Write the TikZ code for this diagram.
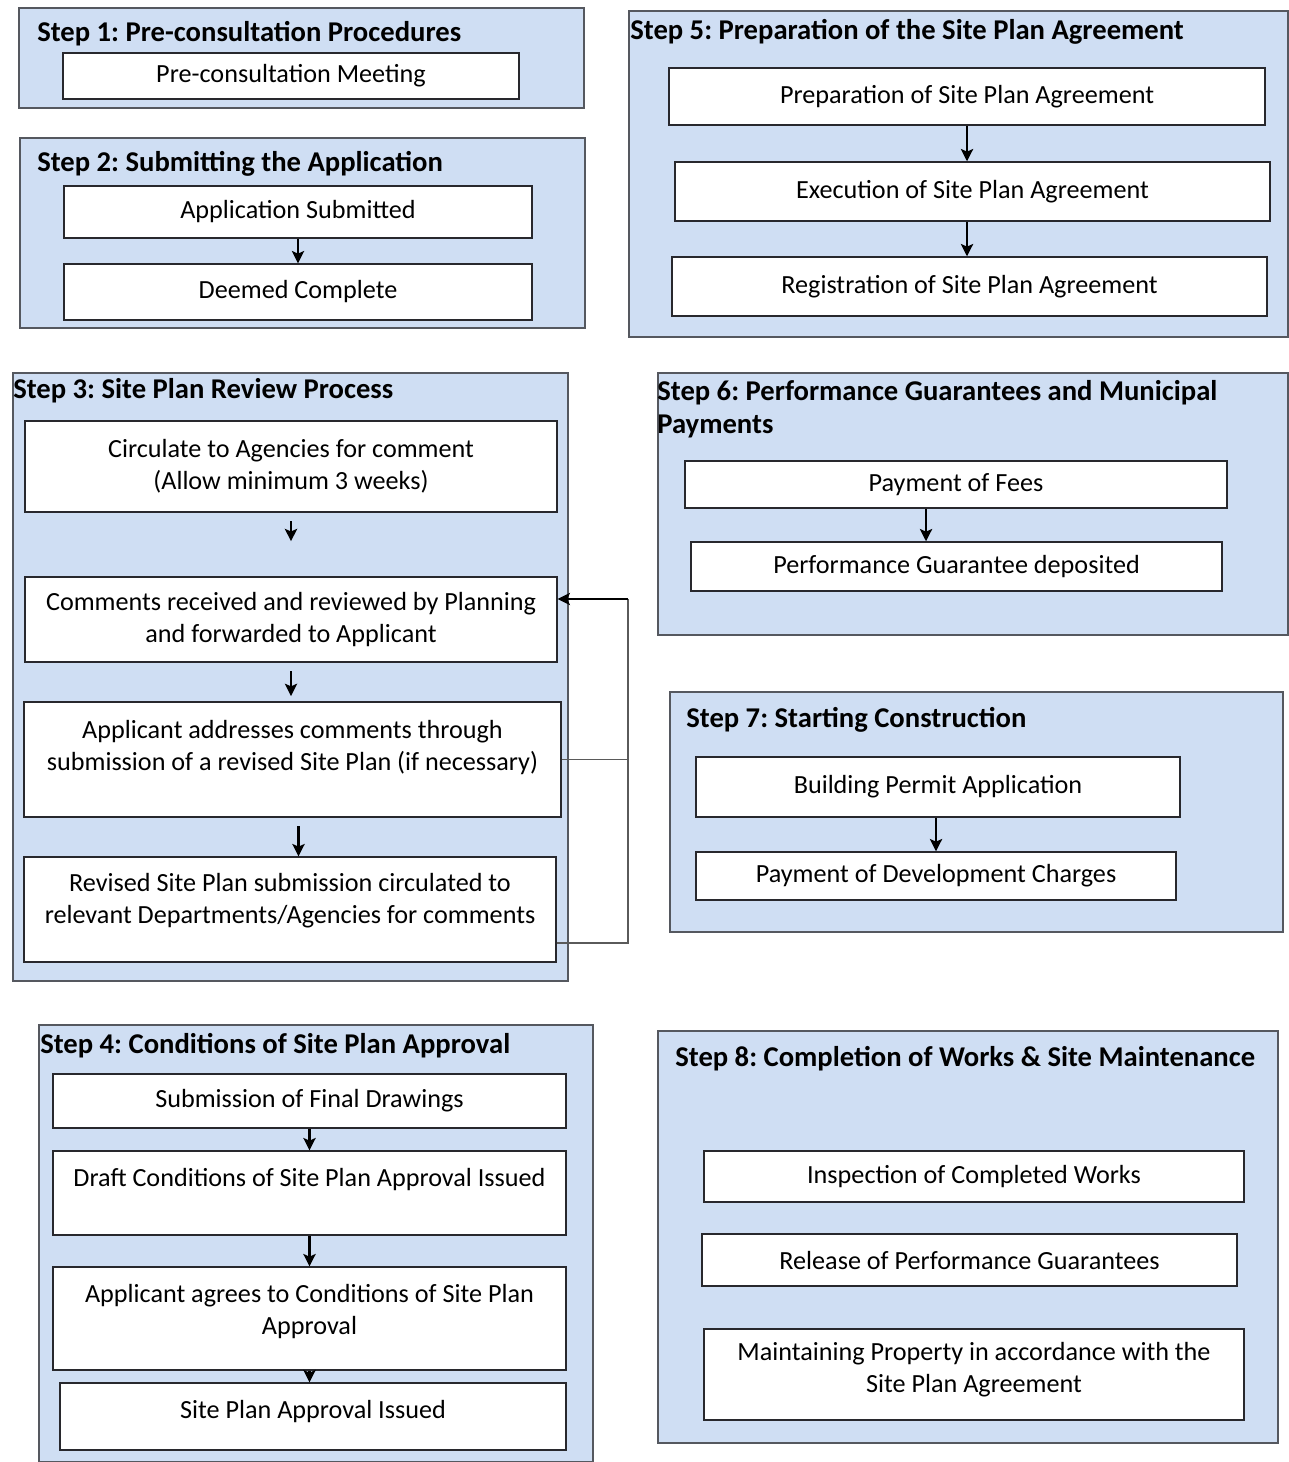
\documentclass[tikz,border=0pt]{standalone}
\usepackage{fontspec}
\setmainfont{Carlito}
\usetikzlibrary{arrows.meta}
\definecolor{panelblue}{RGB}{207,222,243}
\definecolor{panelrule}{RGB}{85,88,95}
\definecolor{boxrule}{RGB}{40,40,45}
\definecolor{loopgrey}{RGB}{90,90,90}
\frenchspacing
\begin{document}
\begin{tikzpicture}[x=0.02cm, y=-0.02cm,
  font=\fontsize{14.9pt}{18.2pt}\selectfont,
  stepframe/.style={draw=panelrule, fill=panelblue, line width=1.1pt, anchor=north west, inner sep=0pt},
  steptitle/.style={anchor=west, font=\fontsize{16.3pt}{19pt}\selectfont\bfseries, align=left, inner sep=0pt},
  stepbox/.style={draw=boxrule, fill=white, line width=0.8pt, align=center, inner sep=0pt},
  flow/.style={-{Stealth[length=7pt, width=7pt, inset=1.5pt]}, line width=1.3pt, draw=black},
  loopline/.style={line width=0.8pt, draw=loopgrey}]
\useasboundingbox (0,0) rectangle (1288,1462);
% step panels
\node[stepframe, minimum width=11.30cm, minimum height=2.00cm] (s1) at (18,7) {};
\node[stepframe, minimum width=11.30cm, minimum height=3.80cm] (s2) at (19,137) {};
\node[stepframe, minimum width=11.10cm, minimum height=12.16cm] (s3) at (12,372) {};
\node[stepframe, minimum width=11.08cm, minimum height=8.74cm] (s4) at (38,1024) {};
\node[stepframe, minimum width=13.18cm, minimum height=6.52cm] (s5) at (628,10) {};
\node[stepframe, minimum width=12.60cm, minimum height=5.24cm] (s6) at (657,372) {};
\node[stepframe, minimum width=12.26cm, minimum height=4.80cm] (s7) at (669,691) {};
\node[stepframe, minimum width=12.40cm, minimum height=8.24cm] (s8) at (657,1030) {};
% panel titles
\node[steptitle] (t1) at (37,34) {Step 1: Pre-consultation Procedures};
\node[steptitle] (t2) at (37,164) {Step 2: Submitting the Application};
\node[steptitle] (t3) at (13,391) {Step 3: Site Plan Review Process};
\node[steptitle] (t4) at (40,1046) {Step 4: Conditions of Site Plan Approval};
\node[steptitle] (t5) at (630,32) {Step 5: Preparation of the Site Plan Agreement};
\node[steptitle] (t6) at (657,409) {Step 6: Performance Guarantees and Municipal\\Payments};
\node[steptitle] (t7) at (686,720) {Step 7: Starting Construction};
\node[steptitle] (t8) at (675,1059) {Step 8: Completion of Works \& Site Maintenance};
% step 1
\node[stepbox, minimum width=9.12cm, minimum height=0.92cm] (m1) at (291,76) {Pre-consultation Meeting};
% step 2
\node[stepbox, minimum width=9.36cm, minimum height=1.04cm] (a1) at (298,212) {Application Submitted};
\node[stepbox, minimum width=9.36cm, minimum height=1.12cm] (a2) at (298,292) {Deemed Complete};
% step 3
\node[stepbox, minimum width=10.64cm, minimum height=1.82cm] (r1) at (291,466.5) {Circulate to Agencies for comment\\(Allow minimum 3 weeks)};
\node[stepbox, minimum width=10.64cm, minimum height=1.70cm] (r2) at (291,619.5) {Comments received and reviewed by Planning\\and forwarded to Applicant};
\node[stepbox, minimum width=10.74cm, minimum height=2.30cm] (r3) at (292.5,759.5) {Applicant addresses comments through\\submission of a revised Site Plan (if necessary)\\[-2pt]\mbox{}};
\node[stepbox, minimum width=10.64cm, minimum height=2.10cm] (r4) at (290,909.5) {Revised Site Plan submission circulated to\\relevant Departments/Agencies for comments\\[-6pt]\mbox{}};
% step 4
\node[stepbox, minimum width=10.26cm, minimum height=1.08cm] (c1) at (309.5,1101) {Submission of Final Drawings};
\node[stepbox, minimum width=10.26cm, minimum height=1.68cm] (c2) at (309.5,1193) {Draft Conditions of Site Plan Approval Issued\\\mbox{}};
\node[stepbox, minimum width=10.26cm, minimum height=2.06cm] (c3) at (309.5,1318.5) {Applicant agrees to Conditions of Site Plan\\Approval\\[-8pt]\mbox{}};
\node[stepbox, minimum width=10.12cm, minimum height=1.34cm] (c4) at (313,1416.5) {Site Plan Approval Issued\\[-10pt]\mbox{}};
% step 5
\node[stepbox, minimum width=11.92cm, minimum height=1.14cm] (p1) at (967,96.5) {Preparation of Site Plan Agreement};
\node[stepbox, minimum width=11.90cm, minimum height=1.18cm] (p2) at (972.5,191.5) {Execution of Site Plan Agreement};
\node[stepbox, minimum width=11.90cm, minimum height=1.18cm] (p3) at (969.5,286.5) {Registration of Site Plan Agreement};
% step 6
\node[stepbox, minimum width=10.84cm, minimum height=0.94cm] (f1) at (956,484.5) {Payment of Fees};
\node[stepbox, minimum width=10.62cm, minimum height=0.98cm] (f2) at (956.5,566.5) {Performance Guarantee deposited};
% step 7
\node[stepbox, minimum width=9.68cm, minimum height=1.20cm] (b1) at (938,787) {Building Permit Application};
\node[stepbox, minimum width=9.60cm, minimum height=0.96cm] (b2) at (936,876) {Payment of Development Charges};
% step 8
\node[stepbox, minimum width=10.80cm, minimum height=1.02cm] (e1) at (974,1176.5) {Inspection of Completed Works};
\node[stepbox, minimum width=10.70cm, minimum height=1.04cm] (e2) at (969.5,1260) {Release of Performance Guarantees};
\node[stepbox, minimum width=10.80cm, minimum height=1.82cm] (e3) at (974,1374.5) {Maintaining Property in accordance with the\\Site Plan Agreement\\[-10pt]\mbox{}};
% arrows
\draw[flow] (a1.south) -- (a2.north);
\draw[flow, shorten <=5pt, shorten >=20pt] (r1.south) -- (r1.south |- r2.north);
\draw[flow, shorten <=5pt, shorten >=3pt] (r2.south) -- (r2.south |- r3.north);
\draw[flow, shorten <=5pt] ([xshift=0.12cm]r3.south) -- ([xshift=0.12cm]r3.south |- r4.north);
\draw[flow] (c1.south) -- (c1.south |- c2.north);
\draw[flow] (c2.south) -- (c2.south |- c3.north);
\draw[flow] (c3.south) -- (c3.south |- c4.north);
\draw[flow] (p1.south) -- (p1.south |- p2.north);
\draw[flow] (p2.south -| p1.south) -- (p1.south |- p3.north);
\draw[flow] ([xshift=-0.6cm]f1.south) -- ([xshift=-0.6cm]f1.south |- f2.north);
\draw[flow] (b1.south -| b2.north) -- (b2.north);
% revision loop
\coordinate (looptop) at (628,599);
\coordinate (loopbot) at (628,943);
\draw[loopline] (loopbot -| r4.east) -- (loopbot) -- (looptop);
\draw[loopline] (r3.east) -- (r3.east -| looptop);
\draw[flow, line width=1pt] (looptop) -- (looptop -| r2.east);
\end{tikzpicture}
\end{document}
